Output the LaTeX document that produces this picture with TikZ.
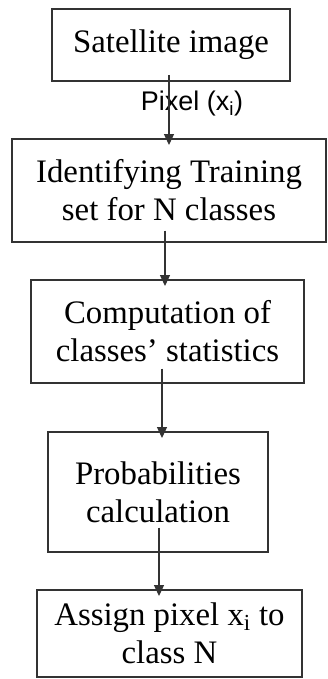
\documentclass[tikz,border=0pt]{standalone}
\usepackage{fontspec}
\setmainfont{Liberation Serif}
\setsansfont{Liberation Sans}
\usetikzlibrary{arrows.meta}

\begin{document}
\begin{tikzpicture}[x=0.03cm, y=-0.03cm,
    box/.style={draw=black!80, line width=1.1pt, align=center, inner sep=0pt,
      font=\fontsize{28}{32.5}\selectfont},
    flow/.style={draw=black!80, line width=1.1pt,
      -{Triangle[width=0.3cm,length=0.33cm]}, shorten >=-0.2cm}]
  \useasboundingbox (0,0) rectangle (327,679);
  % Box 1: input
  \node[box, minimum width=7.14cm, minimum height=2.16cm] (sat) at (171,45) {Satellite image};
  % Box 2: training set
  \node[box, minimum width=9.42cm, minimum height=3.09cm] (train) at (169,190.5)
    {Identifying Training\\set for N classes};
  % Box 3: statistics
  \node[box, minimum width=8.19cm, minimum height=3.09cm] (stats) at (167.5,331.5)
    {Computation of\\classes’ statistics};
  % Box 4: probabilities
  \node[box, minimum width=6.6cm, minimum height=3.6cm] (prob) at (158,492)
    {Probabilities\\calculation};
  % Box 5: output
  \node[box, minimum width=7.95cm, minimum height=2.61cm] (assign) at (169.5,633.5)
    {Assign pixel x\textsubscript{i} to\\class N};
  % Label on the first arrow
  \node[font=\sffamily\fontsize{23}{26}\selectfont] (pix) at (192,104) {Pixel (x\textsubscript{i})};
  % Arrows
  \draw[flow, shorten <=-0.2cm] ([xshift=-0.06cm]sat.south) -- ([xshift=-0.06cm]sat.south |- train.north);
  \draw[flow, shorten <=-0.36cm] ([xshift=-0.12cm]train.south) -- ([xshift=-0.12cm]train.south |- stats.north);
  \draw[flow, shorten <=-0.45cm] ([xshift=-0.165cm]stats.south) -- ([xshift=-0.165cm]stats.south |- prob.north);
  \draw[flow, shorten <=-0.75cm] ([xshift=0.03cm]prob.south) -- ([xshift=0.03cm]prob.south |- assign.north);
\end{tikzpicture}
\end{document}
